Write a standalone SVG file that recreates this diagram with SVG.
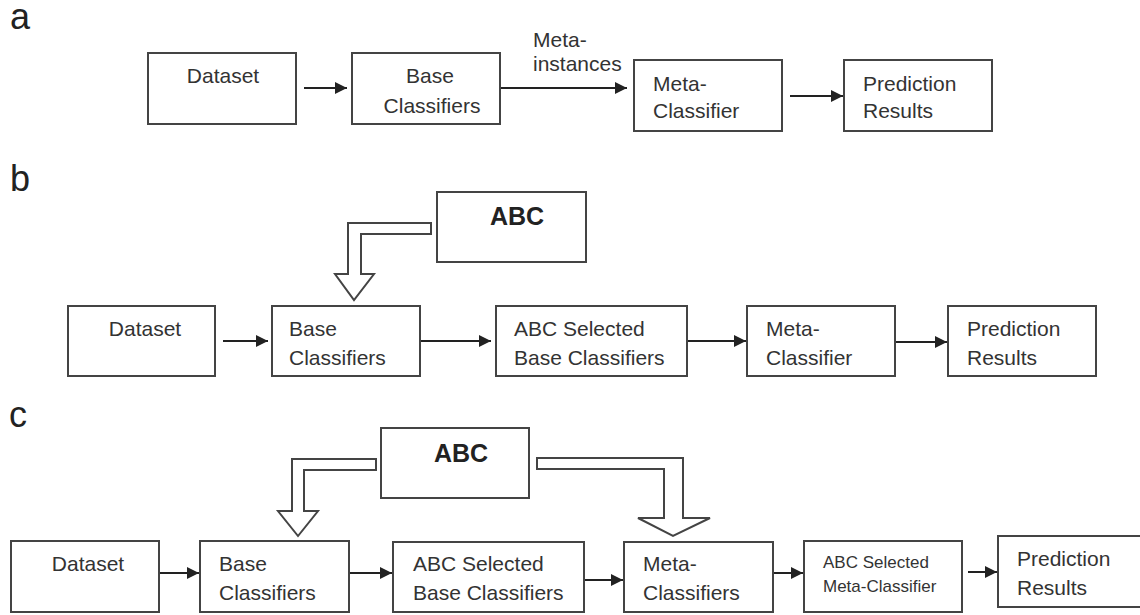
<svg xmlns="http://www.w3.org/2000/svg" width="1140" height="615" viewBox="0 0 1140 615">
  <defs>
    <marker id="head" viewBox="0 0 10 10" refX="10" refY="5" markerWidth="6" markerHeight="6" markerUnits="strokeWidth" orient="auto">
      <path d="M0,0 L10,5 L0,10 Z" fill="#222"/>
    </marker>
    <style>
      .box { fill: #fff; stroke: #444; stroke-width: 2; }
      .txt { font-family: "Liberation Sans", Arial, sans-serif; font-size: 21px; fill: #333; }
      .sm { font-size: 17px; }
      .abc { font-family: "Liberation Sans", Arial, sans-serif; font-size: 25px; font-weight: bold; fill: #222; }
      .panel { font-family: "Liberation Sans", Arial, sans-serif; font-size: 36px; fill: #222; }
      .link { fill: none; stroke: #222; stroke-width: 2; marker-end: url(#head); }
      .hollow { fill: #fff; stroke: #444; stroke-width: 2; stroke-linejoin: miter; }
    </style>
  </defs>

  <!-- panel letters -->
  <text class="panel" x="10" y="29">a</text>
  <text class="panel" x="10" y="191">b</text>
  <text class="panel" x="9" y="427">c</text>

  <!-- connectors -->
  <g id="connectors">
    <!-- a -->
    <line class="link" x1="304" y1="88" x2="347" y2="88"/>
    <line class="link" x1="500" y1="88" x2="627" y2="88"/>
    <line class="link" x1="790" y1="96" x2="843" y2="96"/>
    <!-- b -->
    <line class="link" x1="223" y1="341" x2="268" y2="341"/>
    <line class="link" x1="420" y1="341" x2="491" y2="341"/>
    <line class="link" x1="687" y1="341" x2="746" y2="341"/>
    <line class="link" x1="895" y1="342" x2="947" y2="342"/>
    <!-- c -->
    <line class="link" x1="159" y1="573" x2="199" y2="573"/>
    <line class="link" x1="349" y1="573" x2="392" y2="573"/>
    <line class="link" x1="584" y1="580" x2="623" y2="580"/>
    <line class="link" x1="773" y1="573" x2="803" y2="573"/>
    <line class="link" x1="968" y1="572" x2="997" y2="572"/>
    <!-- hollow arrows from ABC -->
    <path class="hollow" d="M431,223 L348,223 L348,274 L335,274 L354,300 L374,274 L361,274 L361,234 L431,234 Z"/>
    <path class="hollow" d="M376,459 L292,459 L292,511 L278,511 L298,536 L318,511 L304,511 L304,470 L376,470 Z"/>
    <path class="hollow" d="M537,458 L683,458 L683,518 L710,518 L673,536 L638,518 L664,518 L664,469 L537,469 Z"/>
  </g>

  <!-- panel a -->
  <g id="a-dataset">
    <rect class="box" x="148" y="53" width="148" height="71"/>
    <text class="txt" x="223" y="83" text-anchor="middle">Dataset</text>
  </g>
  <g id="a-base">
    <rect class="box" x="352" y="53" width="148" height="71"/>
    <text class="txt" x="430" y="83" text-anchor="middle">Base</text>
    <text class="txt" x="432" y="113" text-anchor="middle">Classifiers</text>
  </g>
  <g id="a-meta-label">
    <text class="txt" x="533" y="47">Meta-</text>
    <text class="txt" x="533" y="71">instances</text>
  </g>
  <g id="a-meta">
    <rect class="box" x="634" y="60" width="148" height="71"/>
    <text class="txt" x="653" y="91">Meta-</text>
    <text class="txt" x="653" y="118">Classifier</text>
  </g>
  <g id="a-results">
    <rect class="box" x="844" y="60" width="148" height="71"/>
    <text class="txt" x="863" y="91">Prediction</text>
    <text class="txt" x="863" y="118">Results</text>
  </g>

  <!-- panel b -->
  <g id="b-abc">
    <rect class="box" x="437" y="192" width="149" height="70"/>
    <text class="abc" x="517" y="225" text-anchor="middle">ABC</text>
  </g>
  <g id="b-dataset">
    <rect class="box" x="68" y="306" width="147" height="70"/>
    <text class="txt" x="145" y="336" text-anchor="middle">Dataset</text>
  </g>
  <g id="b-base">
    <rect class="box" x="272" y="306" width="148" height="70"/>
    <text class="txt" x="289" y="336">Base</text>
    <text class="txt" x="289" y="365">Classifiers</text>
  </g>
  <g id="b-selected">
    <rect class="box" x="496" y="306" width="191" height="70"/>
    <text class="txt" x="514" y="336">ABC Selected</text>
    <text class="txt" x="514" y="365">Base Classifiers</text>
  </g>
  <g id="b-meta">
    <rect class="box" x="747" y="306" width="148" height="70"/>
    <text class="txt" x="766" y="336">Meta-</text>
    <text class="txt" x="766" y="365">Classifier</text>
  </g>
  <g id="b-results">
    <rect class="box" x="948" y="306" width="148" height="70"/>
    <text class="txt" x="967" y="336">Prediction</text>
    <text class="txt" x="967" y="365">Results</text>
  </g>

  <!-- panel c -->
  <g id="c-abc">
    <rect class="box" x="381" y="428" width="148" height="70"/>
    <text class="abc" x="461" y="462" text-anchor="middle">ABC</text>
  </g>
  <g id="c-dataset">
    <rect class="box" x="11" y="541" width="148" height="71"/>
    <text class="txt" x="88" y="571" text-anchor="middle">Dataset</text>
  </g>
  <g id="c-base">
    <rect class="box" x="200" y="541" width="149" height="71"/>
    <text class="txt" x="219" y="571">Base</text>
    <text class="txt" x="219" y="600">Classifiers</text>
  </g>
  <g id="c-selected">
    <rect class="box" x="393" y="542" width="191" height="70"/>
    <text class="txt" x="413" y="571">ABC Selected</text>
    <text class="txt" x="413" y="600">Base Classifiers</text>
  </g>
  <g id="c-meta">
    <rect class="box" x="624" y="542" width="149" height="70"/>
    <text class="txt" x="643" y="571">Meta-</text>
    <text class="txt" x="643" y="600">Classifiers</text>
  </g>
  <g id="c-selected-meta">
    <rect class="box" x="804" y="541" width="158" height="71"/>
    <text class="txt sm" x="823" y="568">ABC Selected</text>
    <text class="txt sm" x="823" y="592">Meta-Classifier</text>
  </g>
  <g id="c-results">
    <rect class="box" x="998" y="536" width="148" height="71"/>
    <text class="txt" x="1017" y="566">Prediction</text>
    <text class="txt" x="1017" y="595">Results</text>
  </g>
</svg>
